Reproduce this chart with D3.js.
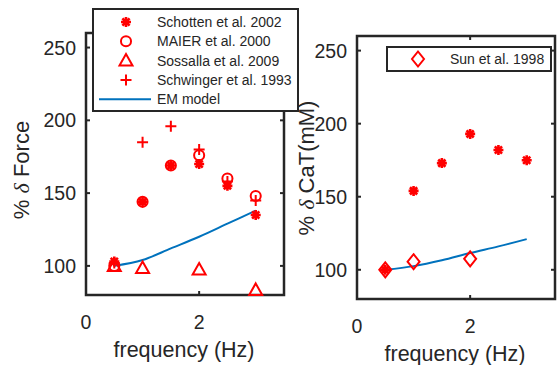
<!DOCTYPE html>
<html>
<head>
<meta charset="utf-8">
<script src="https://cdn.jsdelivr.net/npm/d3@7"></script>
<style>
  body { margin: 0; background: #fff; }
  text { font-family: "Liberation Sans", Arial, sans-serif; }
</style>
</head>
<body>
<script>
// data
var freqs = [0.5, 1, 1.5, 2, 2.5, 3];
var schotten = [103, 144, 169, 170, 155, 135];
var maier = [100, 144, 169, 176, 160, 148];
var sossallaF = [0.5, 1, 2, 3];
var sossalla = [100, 98.5, 97.5, 83.5];
var schwinger = [102, 185, 196, 180, 158, 145];
var emForce = [100, 104, 112, 120, 129, 138];

var sunF = [0.5, 1, 2];
var sun = [100, 105.5, 107.5];
var caData = [100, 154, 173, 193, 182, 175];
var emCaT = [100, 102.5, 106.5, 111.5, 116, 121];

var xTicks = [0, 2];
var yTicks = [100, 150, 200, 250];

var W = 557, H = 365;
var red = "#ff0000", blue = "#0072bd", ink = "#262626";

var svg = d3.select("body").append("svg")
  .attr("width", W).attr("height", H);

function panel(box) {
  var x = d3.scaleLinear().domain([0, 3.5]).range([box.x0, box.x1]);
  var y = d3.scaleLinear().domain([80, 260]).range([box.y1, box.y0]);
  var g = svg.append("g");

  // ticks, inward on all four sides
  yTicks.forEach(function(t) {
    g.append("line").attr("x1", box.x0).attr("x2", box.x0 + 4)
      .attr("y1", y(t)).attr("y2", y(t)).attr("stroke", ink).attr("stroke-width", 2);
    g.append("line").attr("x1", box.x1).attr("x2", box.x1 - 4)
      .attr("y1", y(t)).attr("y2", y(t)).attr("stroke", ink).attr("stroke-width", 2);
    g.append("text").attr("x", box.x0 - 10).attr("y", y(t) + 7)
      .attr("text-anchor", "end").attr("font-size", 19.5).attr("fill", ink).text(t);
  });
  xTicks.forEach(function(t) {
    g.append("line").attr("x1", x(t)).attr("x2", x(t))
      .attr("y1", box.y1).attr("y2", box.y1 - 4).attr("stroke", ink).attr("stroke-width", 2);
    g.append("line").attr("x1", x(t)).attr("x2", x(t))
      .attr("y1", box.y0).attr("y2", box.y0 + 4).attr("stroke", ink).attr("stroke-width", 2);
    g.append("text").attr("x", x(t)).attr("y", box.y1 + 34)
      .attr("text-anchor", "middle").attr("font-size", 19.5).attr("fill", ink).text(t);
  });
  g.append("rect").attr("x", box.x0).attr("y", box.y0)
    .attr("width", box.x1 - box.x0).attr("height", box.y1 - box.y0)
    .attr("fill", "none").attr("stroke", ink).attr("stroke-width", 2.5);
  g.append("text").attr("x", (box.x0 + box.x1) / 2 - 1).attr("y", box.y1 + 62)
    .attr("text-anchor", "middle").attr("font-size", 21.5).attr("fill", ink).text("frequency (Hz)");
  return {x: x, y: y, g: g};
}

// MATLAB-like marker shapes
var asterisk = "M-5,0H5M0,-5V5M-3.6,-3.6L3.6,3.6M-3.6,3.6L3.6,-3.6";
var plus = "M-5.5,0H5.5M0,-5.5V5.5";
var circle = d3.symbol().type(d3.symbolCircle).size(80)();
var triangle = "M0,-6.5L6.5,5L-6.5,5Z";
var diamond = "M0,-7.5L6,0L0,7.5L-6,0Z";

function points(p, xs, ys, path, sw) {
  p.g.selectAll(null).data(ys).enter().append("path")
    .attr("transform", function(d, i) { return "translate(" + p.x(xs[i]) + "," + p.y(d) + ")"; })
    .attr("d", path)
    .attr("fill", "none")
    .attr("stroke", red).attr("stroke-width", sw || 2);
}

function line(p, xs, ys) {
  p.g.append("path").datum(ys)
    .attr("d", d3.line().x(function(d, i) { return p.x(xs[i]); }).y(function(d) { return p.y(d); }).curve(d3.curveMonotoneX))
    .attr("fill", "none").attr("stroke", blue).attr("stroke-width", 2);
}

// left panel: force
var L = panel({x0: 86, x1: 284, y0: 33, y1: 295});
line(L, freqs, emForce);
points(L, freqs, schotten, asterisk, 2.6);
points(L, freqs, maier, circle);
points(L, sossallaF, sossalla, triangle);
points(L, freqs, schwinger, plus);
L.g.append("text").attr("transform", "translate(29,170) rotate(-90)")
  .attr("text-anchor", "middle").attr("font-size", 22).attr("fill", ink)
  .html('% <tspan font-style="italic" font-family="Liberation Serif">δ</tspan> Force');

// right panel: CaT
var R = panel({x0: 357, x1: 555, y0: 36, y1: 299});
line(R, freqs, emCaT);
points(R, freqs, caData, asterisk, 2.6);
points(R, sunF, sun, diamond);
R.g.append("text").attr("transform", "translate(314,168) rotate(-90)")
  .attr("text-anchor", "middle").attr("font-size", 22).attr("fill", ink)
  .html('% <tspan font-style="italic" font-family="Liberation Serif">δ</tspan> CaT(mM)');

// legends
var legL = svg.append("g");
legL.append("rect").attr("x", 93).attr("y", 9).attr("width", 205).attr("height", 102)
  .attr("fill", "#fff").attr("stroke", ink).attr("stroke-width", 2);
var legItems = [
  {name: "Schotten et al. 2002", path: asterisk, sw: 2.6},
  {name: "MAIER et al. 2000", path: circle},
  {name: "Sossalla et al. 2009", path: triangle},
  {name: "Schwinger et al. 1993", path: plus},
  {name: "EM model", path: null}
];
legItems.forEach(function(d, i) {
  var yy = 22 + i * 19.3;
  if (d.path) {
    legL.append("path").attr("transform", "translate(126," + yy + ")").attr("d", d.path)
      .attr("fill", "none").attr("stroke", red).attr("stroke-width", d.sw || 2);
  } else {
    legL.append("line").attr("x1", 99).attr("x2", 151).attr("y1", yy).attr("y2", yy)
      .attr("stroke", blue).attr("stroke-width", 2);
  }
  legL.append("text").attr("x", 157).attr("y", yy + 5).attr("font-size", 14)
    .attr("fill", ink).text(d.name);
});

var legR = svg.append("g");
legR.append("rect").attr("x", 387).attr("y", 47).attr("width", 164).attr("height", 24)
  .attr("fill", "#fff").attr("stroke", ink).attr("stroke-width", 2);
legR.append("path").attr("transform", "translate(418,59)").attr("d", diamond)
  .attr("fill", "none").attr("stroke", red).attr("stroke-width", 2);
legR.append("text").attr("x", 450).attr("y", 64).attr("font-size", 14)
  .attr("fill", ink).text("Sun et al. 1998");
</script>
</body>
</html>
